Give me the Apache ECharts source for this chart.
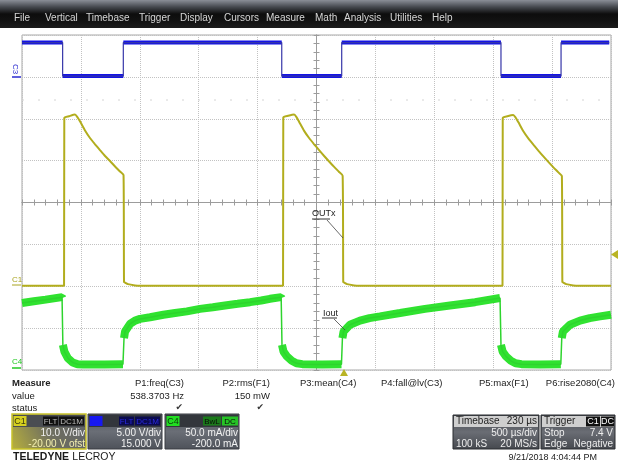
<!DOCTYPE html>
<html><head><meta charset="utf-8">
<script src="https://cdn.jsdelivr.net/npm/echarts@6/dist/echarts.min.js"></script>
<style>html,body{margin:0;padding:0;background:#fff}#c{width:618px;height:466px}</style>
</head><body><div id="c"></div>
<script>
// ---------------- data ----------------
const menuItems = ['File','Vertical','Timebase','Trigger','Display','Cursors','Measure','Math','Analysis','Utilities','Help'];

// C3 (blue) : time in µs from left edge of screen, volts
const c3Time = [0,345,345,860,860,2205,2205,2714,2714,4066,4066,4576,4576,4985];
const c3Volt = [4.1,4.1,0.1,0.1,4.1,4.1,0.1,0.1,4.1,4.1,0.1,0.1,4.1,4.1];

// C1 (yellow) OUTx : µs, volts
const c1Time = [0,357,359,400,450,470,492,535,577,620,662,705,747,790,832,862,866,872,900,960,1000,
  2216,2218,2260,2310,2330,2352,2395,2437,2480,2522,2565,2607,2650,2692,2722,2727,2733,2760,2820,2860,
  4079,4081,4120,4170,4190,4213,4256,4298,4341,4383,4426,4468,4511,4553,4583,4587,4593,4620,4680,4720,5000];
const c1Volt = [0.1,0.1,40.2,40.6,41.0,40.4,39.4,37.2,35.4,33.9,32.5,31.1,29.9,28.6,27.4,26.5,1.0,0.9,0.5,0.2,0.1,
  0.1,40.3,40.7,41.0,40.4,39.3,37.1,35.4,33.9,32.5,31.1,29.8,28.5,27.3,26.4,1.0,0.9,0.5,0.2,0.1,
  0.1,40.2,40.6,40.9,40.3,39.2,37.0,35.3,33.8,32.4,31.0,29.7,28.4,27.2,26.3,1.0,0.9,0.5,0.2,0.1,0.1];

// C4 (green) Iout : µs, mA
const c4Time = [0,100,200,340,343,347,360,390,430,470,520,700,857,
  862,866,875,917,960,1002,1087,1200,1299,1400,1511,1620,1723,1830,1936,2030,2105,2200,
  2203,2207,2220,2250,2290,2330,2380,2550,2712,
  2716,2720,2730,2784,2869,2950,3039,3209,3421,3633,3846,4058,
  4062,4066,4080,4110,4150,4190,4240,4400,4574,
  4578,4582,4592,4652,4737,4820,4907,5000];
const c4Milli = [80,82,84,87,86,30,22,14,9,7,6.5,6.5,7,
  7,38,46,55,59,61,63,66,68,70,73,75,77,79,81,83,85,87,
  86,30,22,16,11,8,7,6.5,7,
  7,38,46,54,59,62,64,68,73,77,81,86,
  86,30,22,16,11,8,7,6.5,7,
  7,38,46,54,59,62,64,66];

// ---------------- helpers ----------------
function pairs(t, v){ return t.map((x,i)=>[x, v[i]]); }
function band(t, v, maxDt, minDv){
  const out = [];
  for (let i=0;i<t.length;i++){
    if (i>0 && t[i]-t[i-1] <= maxDt && Math.abs(v[i]-v[i-1]) > minDv) out.push([t[i], null]);
    out.push([t[i], v[i]]);
  }
  return out;
}
const FONT = '"Liberation Sans", Arial, sans-serif';
function txt(x, y, s, o){
  o = o || {};
  return {type:'text', x:x, y:y, z:o.z||20, rotation:o.rot||0,
    style:{text:s, fill:o.color||'#222', font:(o.weight||'normal')+' '+(o.size||10)+'px '+(o.family||FONT),
      align:o.align||'left', verticalAlign:'middle'}};
}
function rect(x,y,w,h,fill,o){
  o = o || {};
  return {type:'rect', z:o.z||10, shape:{x:x,y:y,width:w,height:h,r:o.r||0},
    style:{fill:fill, stroke:o.stroke||null, lineWidth:o.lw||1}};
}
function line(x1,y1,x2,y2,color,w,dash){
  return {type:'line', z:15, shape:{x1:x1,y1:y1,x2:x2,y2:y2}, style:{stroke:color, lineWidth:w||1, lineDash:dash||null}};
}
function grad(x,y,x2,y2,stops){
  return new echarts.graphic.LinearGradient(x,y,x2,y2, stops.map((c,i)=>({offset:i/(stops.length-1), color:c})));
}

// ---------------- graphics ----------------
const g = [];
// menu bar
g.push(rect(0,0,618,28, grad(0,0,0,1,['#8a8e97','#45484e','#0d0d0d','#121212','#1c1c1c'])));
const menuX = [14,45,86,139,180,224,266,315,344,390,432];
menuItems.forEach((m,i)=>g.push(txt(menuX[i],18,m,{color:'#d6d6d6',size:10})));

// faint row of marks
g.push(line(22,100,611,100,'#d4d4d4',1,[2,14]));

// channel zero markers
g.push(txt(15,69,'C3',{color:'#2a2ad0',size:8,rot:-Math.PI/2,align:'center'}));
g.push(line(12,77,21,77,'#2a2ad0',1.5));
g.push(txt(12,280,'C1',{color:'#a9a421',size:8}));
g.push(line(12,285,21,285,'#a9a421',1));
g.push(txt(12,362,'C4',{color:'#22c822',size:8}));
g.push(line(12,368,21,368,'#22c822',1.5));

// annotations
g.push(txt(312,214,'OUTx',{color:'#222',size:9}));
g.push(line(312,219,330,219,'#333',1));
g.push(line(327,220,343,238,'#444',0.8));
g.push(txt(323,314,'Iout',{color:'#222',size:9}));
g.push(line(322,318,337,318,'#333',1));
g.push(line(334,319,345,330,'#444',0.8));

// trigger markers
g.push({type:'polygon', z:20, shape:{points:[[618,250],[618,259],[611,254.5]]}, style:{fill:'#b9b425'}});
g.push({type:'polygon', z:20, shape:{points:[[340,376],[348,376],[344,369]]}, style:{fill:'#b9b425'}});

// measure table
const MS = 9.5;
g.push(txt(12,383,'Measure',{weight:'bold',size:MS}));
g.push(txt(12,396,'value',{size:MS}));
g.push(txt(12,408,'status',{size:MS}));
g.push(txt(184,383,'P1:freq(C3)',{align:'right',size:MS}));
g.push(txt(184,396,'538.3703 Hz',{align:'right',size:MS}));
g.push(txt(183,408,'✔',{align:'right',size:9,family:'"DejaVu Sans"',color:'#333'}));
g.push(txt(270,383,'P2:rms(F1)',{align:'right',size:MS}));
g.push(txt(270,396,'150 mW',{align:'right',size:MS}));
g.push(txt(264,408,'✔',{align:'right',size:9,family:'"DejaVu Sans"',color:'#333'}));
g.push(txt(300,383,'P3:mean(C4)',{size:MS}));
g.push(txt(381,383,'P4:fall@lv(C3)',{size:MS}));
g.push(txt(479,383,'P5:max(F1)',{size:MS}));
g.push(txt(615,383,'P6:rise2080(C4)',{size:MS,align:'right'}));

// channel boxes
function chanBox(x, opts){
  const w = 74, y = 414, h = 35;
  g.push(rect(x,y,w,h, opts.body, {stroke:opts.border, lw:opts.blw||1}));
  g.push(rect(x+1,y+1,w-2,12, opts.head, {z:11}));
  g.push(rect(x+1.5,y+2,13,10, opts.badge, {z:12}));
  g.push(txt(x+8,y+7.5,opts.name,{align:'center',size:9,color:opts.badgeText,z:13}));
  opts.tags.forEach(tg=>{
    g.push(rect(tg.x,y+2.5,tg.w,9, tg.fill, {z:12}));
    g.push(txt(tg.x+tg.w/2,y+7.5,tg.t,{align:'center',size:8,color:tg.c,z:13}));
  });
  g.push(txt(x+w-1,y+19,opts.l1,{align:'right',color:opts.c1||'#f2f2f2'}));
  g.push(txt(x+w-1,y+30,opts.l2,{align:'right',color:opts.c2||'#f2f2f2'}));
}
chanBox(12,{name:'C1', border:'#c8c22a', blw:1.5,
  body:grad(1,0,0,1,['#5d6169','#6f6f60','#b9b13c']), head:'#4a4d52',
  badge:'#d6d020', badgeText:'#3a3a10',
  tags:[{x:43,w:15,t:'FLT',fill:'#111',c:'#bbb'},{x:59,w:25,t:'DC1M',fill:'#111',c:'#bbb'}],
  l1:'10.0 V/div', l2:'-20.00 V ofst', c2:'#f4f0b0'});
chanBox(88,{name:'C3', border:'#3a3d42',
  body:grad(0,0,0,1,['#4b4f57','#6a6e76','#4e525a']), head:'#33363c',
  badge:'#1818f0', badgeText:'#1818f0',
  tags:[{x:119,w:15,t:'FLT',fill:'#0a0a50',c:'#2a2ae0'},{x:135,w:25,t:'DC1M',fill:'#0a0a50',c:'#2a2ae0'}],
  l1:'5.00 V/div', l2:'15.000 V'});
chanBox(165,{name:'C4', border:'#3a3d42',
  body:grad(0,0,0,1,['#4b4f57','#6a6e76','#4e525a']), head:'#33363c',
  badge:'#22dd22', badgeText:'#0a3a0a',
  tags:[{x:203,w:18,t:'BwL',fill:'#1a7a1a',c:'#0a0a0a'},{x:222,w:16,t:'DC',fill:'#26c426',c:'#0a0a0a'}],
  l1:'50.0 mA/div', l2:'-200.0 mA'});

// timebase / trigger boxes
function infoBox(x, w, head, headRight, r1, r2){
  const y = 415, h = 34;
  g.push(rect(x,y,w,h, grad(0,0,0,1,['#43464c','#6a6d74','#45484e']), {stroke:'#2a2c30'}));
  g.push(rect(x+1,y+1,w-2,11,'#cfcfcf',{z:11}));
  g.push(txt(x+3,y+6.5,head,{color:'#222',z:13}));
  if (headRight) headRight(x,w,y);
  if (r1[0]) g.push(txt(x+3,y+18.5,r1[0],{color:'#eee'}));
  g.push(txt(x+w-2,y+18.5,r1[1],{align:'right',color:'#eee'}));
  g.push(txt(x+3,y+29,r2[0],{color:'#eee'}));
  g.push(txt(x+w-2,y+29,r2[1],{align:'right',color:'#eee'}));
}
infoBox(453,86,'Timebase',(x,w,y)=>g.push(txt(x+w-2,y+6.5,'230 µs',{align:'right',color:'#222',z:13})),
  ['', '500 µs/div'], ['100 kS','20 MS/s']);
infoBox(541,74,'Trigger',(x,w,y)=>{
  g.push(rect(586,y+1.5,14,10,'#111',{z:12})); g.push(txt(593,y+6.5,'C1',{align:'center',size:9,color:'#fff',z:13}));
  g.push(rect(601,y+1.5,13,10,'#111',{z:12})); g.push(txt(607.5,y+6.5,'DC',{align:'center',size:9,color:'#fff',z:13}));
}, ['Stop','7.4 V'], ['Edge','Negative']);

g.push(txt(597,458,'9/21/2018 4:04:44 PM',{align:'right',size:9,color:'#222'}));
g.push({type:'text', x:13, y:457, z:20, style:{text:'{b|TELEDYNE} {r|LECROY}', verticalAlign:'middle',
  rich:{b:{font:'bold 10.5px '+FONT, fill:'#1a1a1a'}, r:{font:'normal 10.5px '+FONT, fill:'#1a1a1a'}}}});

// ---------------- chart ----------------
const dotted = {show:true, lineStyle:{color:'#c2c2c2', type:'dotted', width:1}};
const hid = {axisLine:{show:false}, axisTick:{show:false}, axisLabel:{show:false}, splitLine:{show:false}};
const centerLine = {color:'#9c9c9c', width:1};
function centerAxis(inside, other, extra){
  return Object.assign({type:'value', interval:1,
    axisLine:{show:true, onZero:true, onZeroAxisIndex:other, lineStyle:centerLine},
    axisTick:{show:true, inside:inside, length:3, lineStyle:centerLine},
    minorTick:{show:true, splitNumber:5, length:3, lineStyle:centerLine},
    axisLabel:{show:false}, splitLine:{show:false}}, extra);
}
const option = {
  animation:false,
  backgroundColor:'#fff',
  grid:{left:22, top:35, width:589, height:335, show:true, borderColor:'#a8a8a8', borderWidth:1, backgroundColor:'#fff'},
  xAxis:[
    Object.assign({type:'value', min:0, max:5000, interval:500}, hid, {splitLine:dotted}),
    centerAxis(true, 3, {min:-5, max:5, position:'bottom'}),
    centerAxis(false, 3, {min:-5, max:5, position:'bottom'})
  ],
  yAxis:[
    Object.assign({type:'value', min:-20, max:60, interval:10}, hid, {splitLine:dotted}),
    Object.assign({type:'value', min:-35, max:5, interval:5}, hid),
    Object.assign({type:'value', min:0, max:400, interval:50}, hid),
    centerAxis(true, 1, {min:-4, max:4, position:'left'}),
    centerAxis(false, 1, {min:-4, max:4, position:'left'})
  ],
  series:[
    {name:'C4 band', type:'line', xAxisIndex:0, yAxisIndex:2, data:band(c4Time,c4Milli,5,20), showSymbol:false,
      connectNulls:false, lineStyle:{color:'#30e230', width:8}, z:3, silent:true},
    {name:'C4', type:'line', xAxisIndex:0, yAxisIndex:2, data:pairs(c4Time,c4Milli), showSymbol:false,
      lineStyle:{color:'#2ed42e', width:1.5}, z:3, silent:true},
    {name:'C1', type:'line', xAxisIndex:0, yAxisIndex:0, data:pairs(c1Time,c1Volt), showSymbol:false,
      smooth:0.2, lineStyle:{color:'#b2ad1d', width:2}, z:4, silent:true},
    {name:'C3 band', type:'line', xAxisIndex:0, yAxisIndex:1, data:band(c3Time,c3Volt,0,1), showSymbol:false,
      connectNulls:false, lineStyle:{color:'#1414e4', width:4}, z:5, silent:true},
    {name:'C3', type:'line', xAxisIndex:0, yAxisIndex:1, data:pairs(c3Time,c3Volt), showSymbol:false,
      lineStyle:{color:'#3535a8', width:1.2}, z:5, silent:true}
  ],
  graphic:{elements:g}
};
const chart = echarts.init(document.getElementById('c'));
chart.setOption(option);
</script>
</body></html>
